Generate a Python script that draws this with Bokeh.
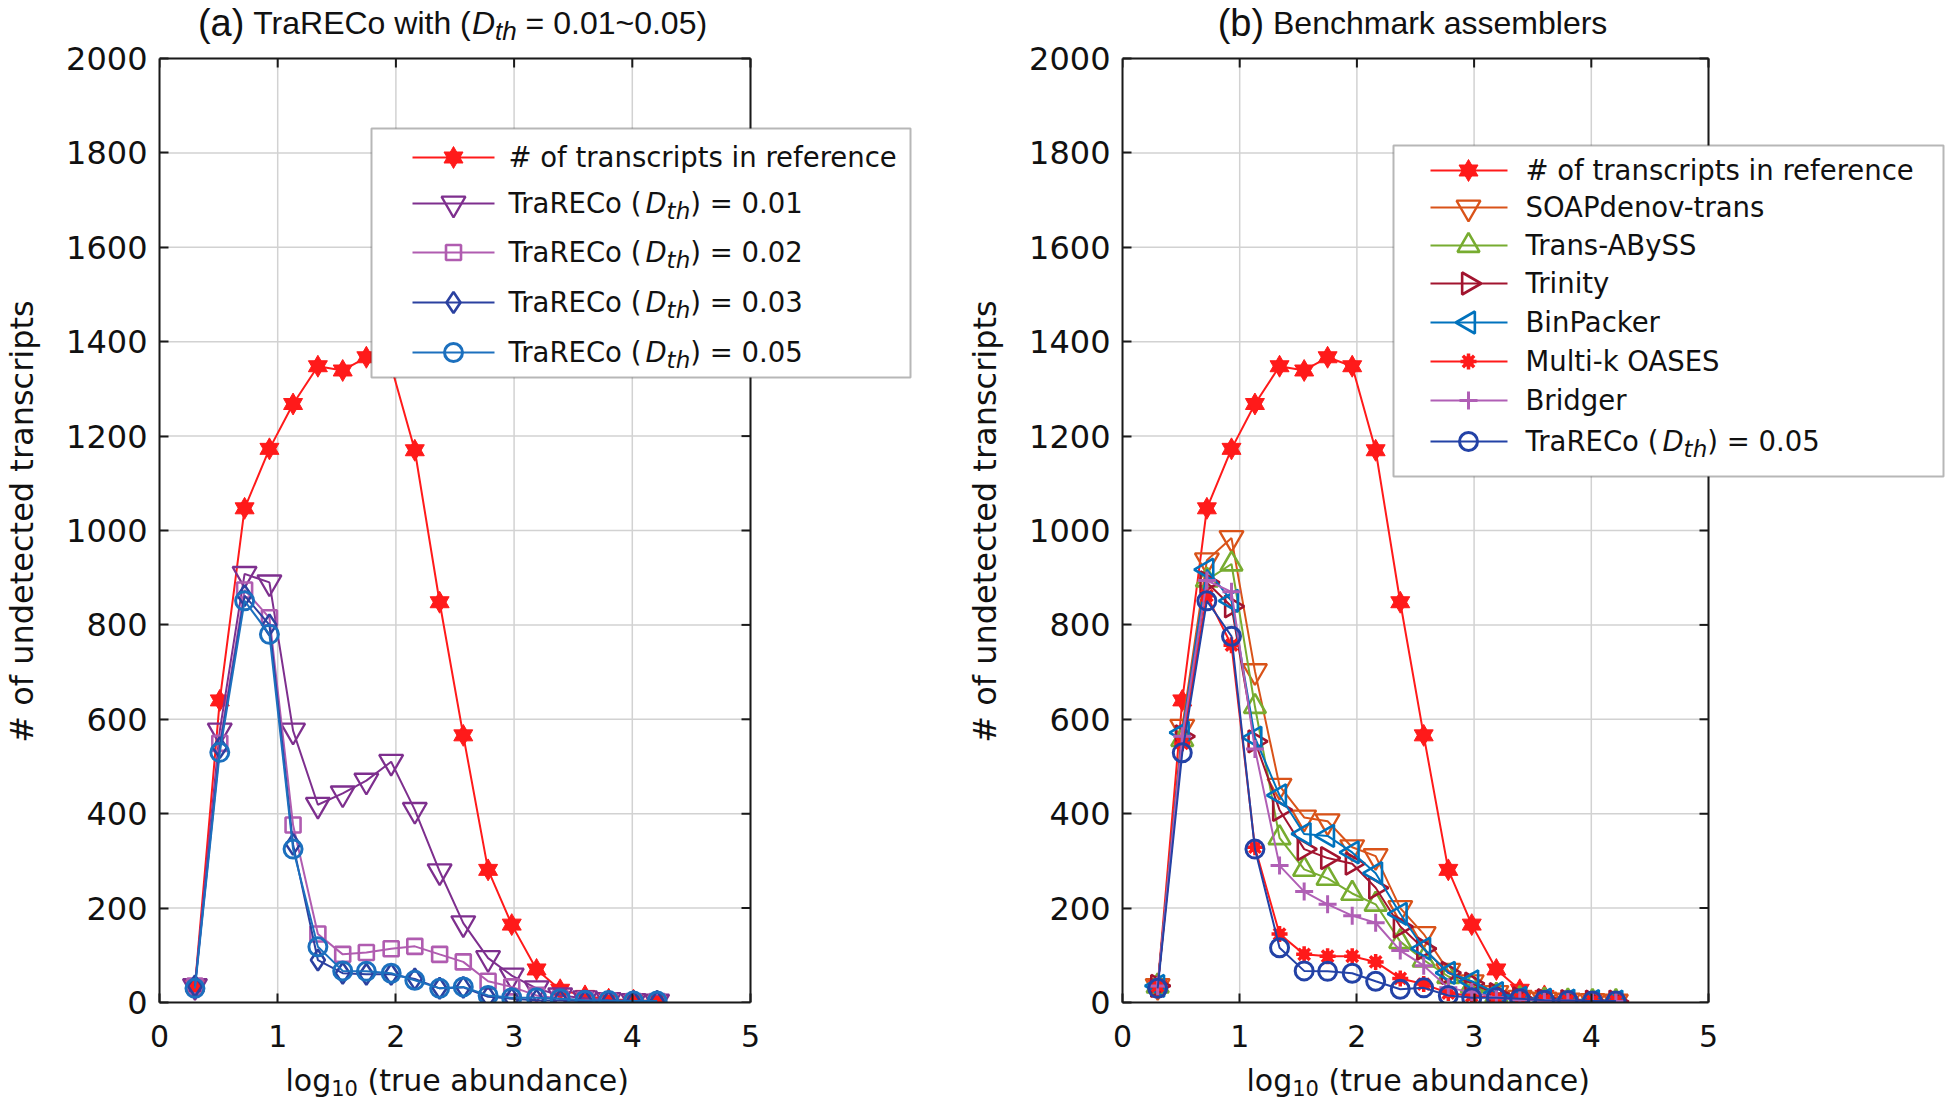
import math
from bokeh.plotting import figure
from bokeh.layouts import row, column
from bokeh.models import FixedTicker, Label, BoxAnnotation, Range1d
from bokeh.embed import file_html
from bokeh.resources import INLINE

# ---------------- data ----------------
x_log_abundance = [0.30, 0.51, 0.72, 0.93, 1.13, 1.34, 1.55, 1.75, 1.96, 2.16,
                   2.37, 2.57, 2.78, 2.98, 3.19, 3.39, 3.60, 3.80, 4.01, 4.21]

ref_transcripts = [35, 640, 1047, 1173, 1268, 1348, 1339, 1367, 1348, 1170,
                   848, 566, 281, 165, 70, 27, 14, 7, 5, 3]

traReco_001 = [35, 576, 908, 890, 576, 419, 443, 470, 510, 408,
               278, 168, 94, 57, 30, 15, 9, 5, 3, 2]
traReco_002 = [35, 549, 874, 815, 376, 145, 102, 106, 114, 119,
               102, 86, 45, 33, 15, 8, 5, 3, 2, 2]
traReco_003 = [35, 540, 862, 800, 335, 90, 62, 60, 60, 50,
               30, 32, 12, 8, 5, 4, 3, 2, 2, 2]
traReco_005 = [30, 530, 851, 780, 325, 118, 67, 66, 62, 47,
               30, 33, 15, 10, 10, 8, 5, 4, 3, 3]

soap_trans = [35, 584, 937, 984, 702, 459, 392, 384, 329, 310,
              200, 145, 67, 43, 20, 10, 6, 4, 3, 2]
trans_abyss = [35, 557, 895, 929, 627, 349, 282, 263, 231, 208,
               129, 90, 55, 35, 15, 8, 5, 3, 2, 2]
trinity = [35, 564, 890, 839, 553, 408, 325, 306, 294, 243,
           161, 114, 63, 40, 18, 9, 5, 3, 2, 2]
binpacker = [35, 572, 917, 851, 561, 439, 357, 353, 318, 274,
             188, 114, 63, 45, 20, 10, 6, 4, 3, 2]
multik_oases = [35, 549, 862, 757, 329, 145, 102, 98, 98, 86,
                51, 39, 20, 14, 10, 7, 5, 4, 3, 3]
bridger = [35, 564, 894, 870, 537, 290, 235, 208, 184, 169,
           110, 78, 31, 22, 10, 6, 4, 3, 2, 2]
traReco_005_b = [30, 529, 851, 776, 325, 116, 67, 66, 62, 45,
                 28, 31, 15, 10, 10, 8, 5, 4, 3, 3]

left_names = ["# of transcripts in reference", "TraRECo (D_th) = 0.01",
              "TraRECo (D_th) = 0.02", "TraRECo (D_th) = 0.03",
              "TraRECo (D_th) = 0.05"]
right_names = ["# of transcripts in reference", "SOAPdenov-trans", "Trans-ABySS",
               "Trinity", "BinPacker", "Multi-k OASES", "Bridger",
               "TraRECo (D_th) = 0.05"]

x_ticks = [0, 1, 2, 3, 4, 5]
y_ticks = [0, 200, 400, 600, 800, 1000, 1200, 1400, 1600, 1800, 2000]
X_MAX, Y_MAX = 5, 2000

left_values = [ref_transcripts, traReco_001, traReco_002, traReco_003, traReco_005]
right_values = [ref_transcripts, soap_trans, trans_abyss, trinity, binpacker,
                multik_oases, bridger, traReco_005_b]

# ---------------- styles ----------------
left_styles = [("hexagram", "#FF1A1A"), ("inv_tri", "#7E2F8E"), ("square", "#B05CB0"),
               ("diamond", "#2B41A0"), ("circle", "#1C70BE")]
right_styles = [("hexagram", "#FF1A1A"), ("inv_tri", "#D95319"), ("tri_up", "#77AC30"),
                ("tri_right", "#A2142F"), ("tri_left", "#0072BD"), ("burst", "#FF1A1A"),
                ("plus", "#B05FB5"), ("circle", "#2342A6")]

DEJAVU = {k: v / 2048 for k, v in {
    " ": 651, "#": 1716, "(": 799, ")": 799, "-": 739, ".": 651, "=": 1716, "~": 1716,
    "0": 1303, "1": 1303, "2": 1303, "3": 1303, "5": 1303,
    "A": 1401, "B": 1405, "C": 1430, "D": 1577, "E": 1294, "M": 1767, "O": 1612,
    "P": 1235, "R": 1423, "S": 1300, "T": 1251,
    "a": 1255, "b": 1300, "c": 1126, "d": 1300, "e": 1260, "f": 721, "g": 1300,
    "h": 1298, "i": 569, "k": 1186, "l": 569, "n": 1298, "o": 1253, "p": 1300,
    "r": 842, "s": 1067, "t": 803, "u": 1298, "v": 1212, "y": 1212}.items()}
ARIAL = {k: v / 1000 for k, v in {
    " ": 278, "(": 333, ")": 333, ".": 278, "=": 584, "~": 584,
    "0": 556, "1": 556, "5": 556, "B": 667, "C": 722, "D": 722, "E": 667, "R": 722,
    "T": 611, "a": 556, "b": 556, "c": 500, "e": 556, "h": 556, "i": 222, "k": 500,
    "l": 222, "m": 833, "n": 556, "o": 556, "r": 333, "s": 500, "t": 278, "w": 722}.items()}

TEXT_COLOR = "#111111"
AXIS_COLOR = "#1a1a1a"
GRID_COLOR = "#d2d2d2"
FRAME_BOTTOM = 1002      # page y of data y = 0
BOX_TOP = 58             # page y of data y = 2000
MAIN_H = 1062
STRIP_H = 41
LEG_FS = 27.5


def text_w(s, table, size):
    return sum(table.get(ch, 0.6) for ch in s) * size


def runs_width(runs, table):
    return sum(text_w(t, table, s) for t, s, _, _ in runs)


def place_runs(p, runs, px, py_mid, mx, my, font, table):
    """Lay text pieces left to right; py_mid is the vertical middle of the line."""
    for text, size, style, dy in runs:
        lead = len(text) - len(text.lstrip(" "))
        trail = len(text) - len(text.rstrip(" "))
        core = text.strip(" ")
        px += lead * table[" "] * size
        if core:
            p.add_layout(Label(x=mx(px), y=my(py_mid + dy), text=core, text_font=font,
                               text_font_size=f"{size:g}px", text_font_style=style,
                               text_color=TEXT_COLOR, text_align="left",
                               text_baseline="middle", level="overlay"))
        px += text_w(core, table, size) + trail * table[" "] * size


def legend_runs(name, size=LEG_FS):
    if "D_th" in name:
        before, after = name.split("D_th")
        return [(before, size, "normal", 0), ("D", size, "italic", 0),
                ("th", round(size * 0.85), "italic", 8), (after, size, "normal", 0)]
    return [(name, size, "normal", 0)]


def draw_markers(p, xs, ys, kind, color, level="glyph"):
    if kind == "hexagram":
        for m in ("triangle", "inverted_triangle"):
            p.scatter(xs, ys, marker=m, size=19, fill_color=color, line_color=color,
                      line_width=1, level=level)
    elif kind == "burst":
        p.scatter(xs, ys, marker="asterisk", size=16, line_color=color, line_width=3.5,
                  level=level)
        p.scatter(xs, ys, marker="circle", size=10, fill_color=color, line_color=color,
                  level=level)
    else:
        spec = {"inv_tri": ("inverted_triangle", 24, 0, 2.3),
                "square": ("square", 15, 0, 2.6),
                "diamond": ("diamond", 21, 0, 2.6),
                "circle": ("circle", 18, 0, 3),
                "tri_up": ("triangle", 22, 0, 2.6),
                "tri_right": ("triangle", 22, -math.pi / 2, 2.6),
                "tri_left": ("triangle", 22, math.pi / 2, 2.6),
                "plus": ("cross", 18, 0, 3)}
        m, s, a, lw = spec[kind]
        p.scatter(xs, ys, marker=m, size=s, angle=a, fill_color=None, line_color=color,
                  line_width=lw, level=level)


def make_panel(fig_x0, fig_w, fx0, box_x1, values, styles, names, title_runs, title_cx,
               legend_box, legend_rows, legend_line, legend_marker, legend_text):
    box_w = box_x1 - fx0
    box_h = FRAME_BOTTOM - BOX_TOP
    fig_x1 = fig_x0 + fig_w

    def mx(px):
        return (px - fx0) / box_w * X_MAX

    def my(py):
        return (FRAME_BOTTOM - py) / box_h * Y_MAX

    # frame reaches the figure's top and right edge, so titles and legends fit inside it
    p = figure(width=fig_w, height=MAIN_H, x_range=Range1d(0, mx(fig_x1)),
               y_range=Range1d(0, my(0)), output_backend="svg", toolbar_location=None,
               min_border_left=fx0 - fig_x0, min_border_right=0, min_border_top=0,
               min_border_bottom=MAIN_H - FRAME_BOTTOM)
    p.background_fill_color = "white"
    p.border_fill_color = "white"
    p.outline_line_color = None
    p.xgrid.visible = False
    p.ygrid.visible = False

    p.xaxis.ticker = FixedTicker(ticks=x_ticks)
    p.yaxis.ticker = FixedTicker(ticks=y_ticks)
    p.xaxis.bounds = (0, X_MAX)
    p.yaxis.bounds = (0, Y_MAX)
    for ax in (p.xaxis, p.yaxis):
        ax.axis_line_color = AXIS_COLOR
        ax.axis_line_width = 2
        ax.major_tick_in = 9
        ax.major_tick_out = 0
        ax.major_tick_line_width = 2
        ax.major_tick_line_color = AXIS_COLOR
        ax.minor_tick_line_color = None
        ax.major_label_text_font = "DejaVu Sans"
        ax.major_label_text_color = TEXT_COLOR
    p.xaxis.major_label_text_font_size = "30px"
    p.yaxis.major_label_text_font_size = "32px"
    p.xaxis.major_label_standoff = 22
    p.yaxis.major_label_standoff = 12
    # trailing em / four-per-em space re-centres the label on the data box
    p.yaxis.axis_label = "# of undetected transcripts\u2003\u2005"
    p.yaxis.axis_label_text_font = "DejaVu Sans"
    p.yaxis.axis_label_text_font_size = "32px"
    p.yaxis.axis_label_text_font_style = "normal"
    p.yaxis.axis_label_text_color = TEXT_COLOR
    p.yaxis.axis_label_standoff = 22

    # grid lines inside the data box
    p.segment(x0=x_ticks, y0=[0] * len(x_ticks), x1=x_ticks, y1=[Y_MAX] * len(x_ticks),
              line_color=GRID_COLOR, line_width=1.5, level="underlay")
    p.segment(x0=[0] * len(y_ticks), y0=y_ticks, x1=[X_MAX] * len(y_ticks), y1=y_ticks,
              line_color=GRID_COLOR, line_width=1.5, level="underlay")

    # top and right box edges with inward ticks
    tick_y = 9 / box_h * Y_MAX
    tick_x = 9 / box_w * X_MAX
    p.segment(x0=[0, X_MAX], y0=[Y_MAX, 0], x1=[X_MAX, X_MAX], y1=[Y_MAX, Y_MAX],
              line_color=AXIS_COLOR, line_width=2)
    p.segment(x0=x_ticks, y0=[Y_MAX] * len(x_ticks), x1=x_ticks,
              y1=[Y_MAX - tick_y] * len(x_ticks), line_color=AXIS_COLOR, line_width=2)
    p.segment(x0=[X_MAX] * len(y_ticks), y0=y_ticks, x1=[X_MAX - tick_x] * len(y_ticks),
              y1=y_ticks, line_color=AXIS_COLOR, line_width=2)

    # data series
    for vals, (kind, color) in zip(values, styles):
        p.line(x_log_abundance, vals, line_color=color, line_width=2)
        draw_markers(p, x_log_abundance, vals, kind, color)

    # legend
    l, t, r, b = legend_box
    p.add_layout(BoxAnnotation(left=mx(l), right=mx(r), top=my(t), bottom=my(b),
                               fill_color="white", fill_alpha=1, line_color="#111111",
                               line_width=2, level="annotation"))
    for ry, name, (kind, color) in zip(legend_rows, names, styles):
        p.line([mx(legend_line[0]), mx(legend_line[1])], [my(ry), my(ry)],
               line_color=color, line_width=2, level="overlay")
        draw_markers(p, [mx(legend_marker)], [my(ry)], kind, color, level="overlay")
        place_runs(p, legend_runs(name), legend_text, ry - 1, mx, my, "DejaVu Sans", DEJAVU)

    # title
    tw = runs_width(title_runs, ARIAL)
    place_runs(p, title_runs, title_cx - tw / 2, 22, mx, my, "Liberation Sans", ARIAL)
    return p


title_a = [("(a)", 38, "normal", 0), (" TraRECo with (", 32, "normal", 0),
           ("D", 32, "italic", 0), ("th", 26, "italic", 8),
           (" = 0.01~0.05)", 32, "normal", 0)]
title_b = [("(b)", 38, "normal", 0), (" Benchmark assemblers", 32, "normal", 0)]

p1 = make_panel(0, 940, 159, 750, left_values, left_styles, left_names, title_a, 452,
                (371, 128, 910, 377), [157, 203, 252, 302, 352],
                (412, 494), 453, 508)
p2 = make_panel(940, 1006, 1122, 1708, right_values, right_styles, right_names, title_b, 1412,
                (1393, 145, 1943, 476), [170, 207, 245, 283, 322, 361, 400, 441],
                (1430, 1507), 1468, 1525)

# strip under both panels holding the x-axis labels (with subscript)
strip = figure(width=1946, height=STRIP_H, x_range=Range1d(0, 1946),
               y_range=Range1d(0, STRIP_H), output_backend="svg", toolbar_location=None,
               min_border=0, x_axis_type=None, y_axis_type=None)
strip.outline_line_color = None
strip.background_fill_color = "white"
strip.border_fill_color = "white"


def sx(px):
    return px


def sy(py):
    return MAIN_H + STRIP_H - py


xl_runs = [("log", 30, "normal", 0), ("10", 21, "normal", 7),
           (" (true abundance)", 30, "normal", 0)]
for start in (285, 1246):
    place_runs(strip, xl_runs, start, 1080, sx, sy, "DejaVu Sans", DEJAVU)

layout = column(row(p1, p2), strip)
open("out.html", "w").write(file_html(layout, INLINE))
